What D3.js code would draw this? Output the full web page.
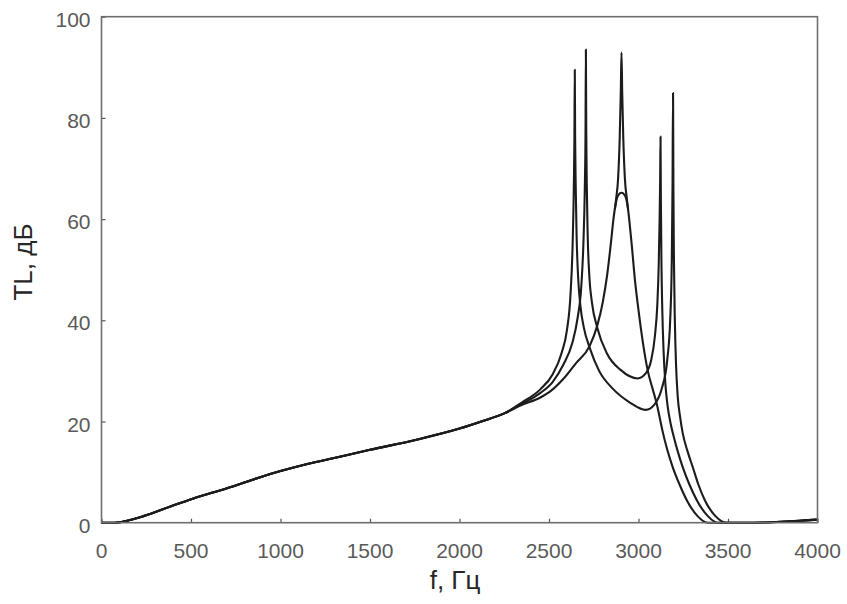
<!DOCTYPE html>
<html>
<head>
<meta charset="utf-8">
<script src="https://cdn.jsdelivr.net/npm/d3@7"></script>
<style>
  body { margin: 0; background: #fff; }
  .tick-label { font-family: "Liberation Sans", Arial, sans-serif; font-size: 21px; fill: #5a5a5a; }
  .axis-title { font-family: "Liberation Sans", Arial, sans-serif; font-size: 26px; fill: #262626; }
</style>
</head>
<body>
<div id="chart"></div>
<script>
// low-frequency part, all curves lie on top of each other here
const baseCurve = [
  [0, 0], [75, 0], [143, 0.4], [235, 1.3], [385, 3.2], [514, 4.8], [701, 6.8],
  [887, 9.0], [1000, 10.2], [1150, 11.6], [1300, 12.8], [1500, 14.4], [1760, 16.4],
  [2000, 18.6], [2130, 20.1], [2250, 21.6]
]

// tail above ~3450 Hz, also shared
const tailCurve = [[3600, 0], [3700, 0.05], [3800, 0.2], [3900, 0.4], [4000, 0.6]]

// two resonators, 2644 / 3193 Hz
const curveA = [
  [2350, 23.8], [2450, 26.3], [2520, 29.3], [2570, 33.5], [2600, 38], [2620, 45],
  [2632, 55], [2639, 67], [2642, 76], [2644, 89.5], [2646, 76], [2649, 67],
  [2654, 57], [2662, 49], [2675, 43], [2695, 38.5], [2728, 34.5], [2780, 30],
  [2856, 26.5], [2950, 23.8], [3040, 22.3], [3090, 23.4], [3130, 26.5], [3160, 32],
  [3177, 40], [3186, 52], [3190, 66], [3193, 84.9], [3195, 66], [3198, 52],
  [3203, 40], [3210, 31], [3219, 25], [3232, 21], [3247, 17.7], [3275, 14],
  [3303, 11], [3335, 7.5], [3370, 4.5], [3430, 1.3], [3492, 0]
]

// two resonators, 2706 / 3123 Hz
const curveB = [
  [2350, 23.5], [2450, 25.6], [2520, 27.8], [2580, 31.2], [2630, 35.5], [2660, 40.5],
  [2680, 46.5], [2692, 55], [2700, 66], [2704, 77], [2706, 93.5], [2708, 78],
  [2711, 67], [2716, 57], [2725, 49], [2740, 43.5], [2770, 38.5], [2823, 33.5],
  [2900, 30.2], [2996, 28.5], [3040, 29.5], [3070, 32], [3092, 37], [3105, 43],
  [3113, 51], [3118, 60], [3121, 68], [3123, 76.3], [3125, 64], [3128, 52],
  [3133, 42], [3140, 34], [3150, 27.5], [3163, 23], [3180, 19.5], [3197, 17],
  [3220, 14], [3247, 11], [3285, 7.5], [3325, 4.5], [3390, 1.2], [3442, 0]
]

// single resonator, 2905 Hz
const curveC = [
  [2350, 23.3], [2449, 24.7], [2505, 25.9], [2577, 28.3], [2650, 31.5], [2728, 35],
  [2770, 39], [2800, 43.5], [2825, 49], [2845, 55], [2860, 60], [2875, 64],
  [2886, 68], [2895, 76], [2901, 85], [2905, 92.9], [2909, 85], [2915, 76],
  [2924, 68], [2935, 64], [2948, 60], [2962, 55], [2980, 48], [3000, 42],
  [3025, 35.5], [3052, 30], [3080, 26.3], [3102, 23.5], [3120, 20.5], [3135, 18],
  [3160, 14.5], [3191, 11], [3230, 7.5], [3269, 4.5], [3330, 1.3], [3386, 0]
]

// damped version of the same resonator: only differs near the top
const curveCDamped = [
  [2868, 62], [2880, 64.2], [2893, 65], [2905, 65.2], [2917, 65], [2930, 64.2], [2942, 62]
]

const xTicks = [0, 500, 1000, 1500, 2000, 2500, 3000, 3500, 4000]
const yTicks = [0, 20, 40, 60, 80, 100]

;(function () {
  const width = 847, height = 604
  const left = 101.5, right = 817.5, top = 16.7, bottom = 522.7

  const svg = d3.select("#chart")
    .append("svg")
    .attr("width", width)
    .attr("height", height)

  const x = d3.scaleLinear().domain([0, 4000]).range([left, right])
  const y = d3.scaleLinear().domain([0, 100]).range([bottom, top])

  // ticks point inward, like matlab
  const xAxis = d3.axisBottom(x).tickValues(xTicks).tickSize(-4).tickFormat("")
  const yAxis = d3.axisLeft(y).tickValues(yTicks).tickSize(-4).tickFormat("")

  svg.append("g")
    .attr("transform", "translate(0," + bottom + ")")
    .call(xAxis)
    .call(g => g.select(".domain").remove())
    .selectAll("line").attr("stroke", "#555").attr("stroke-width", 1.2)

  svg.append("g")
    .attr("transform", "translate(" + left + ",0)")
    .call(yAxis)
    .call(g => g.select(".domain").remove())
    .selectAll("line").attr("stroke", "#555").attr("stroke-width", 1.2)

  // tick labels
  svg.selectAll(".xlab")
    .data(xTicks)
    .enter()
    .append("text")
    .attr("class", "tick-label")
    .attr("x", d => x(d))
    .attr("y", bottom + 35)
    .attr("text-anchor", "middle")
    .text(d => d)

  svg.selectAll(".ylab")
    .data(yTicks)
    .enter()
    .append("text")
    .attr("class", "tick-label")
    .attr("x", left - 11)
    .attr("y", d => y(d) + 10)
    .attr("text-anchor", "end")
    .text(d => d)

  svg.append("text")
    .attr("class", "axis-title")
    .attr("x", 455)
    .attr("y", 589)
    .attr("text-anchor", "middle")
    .text("f, Гц")

  svg.append("text")
    .attr("class", "axis-title")
    .attr("transform", "translate(32,262) rotate(-90)")
    .attr("text-anchor", "middle")
    .text("TL, дБ")

  const line = d3.line()
    .x(d => x(d[0]))
    .y(d => y(d[1]))
    .curve(d3.curveMonotoneX)

  const series = [
    baseCurve.concat(curveC, tailCurve),
    baseCurve.concat(curveB, tailCurve),
    baseCurve.concat(curveA, tailCurve),
    curveCDamped
  ]

  svg.selectAll(".curve")
    .data(series)
    .enter()
    .append("path")
    .attr("class", "curve")
    .attr("d", line)
    .attr("fill", "none")
    .attr("stroke", "#1c1c1c")
    .attr("stroke-width", 2.1)
    .attr("stroke-linejoin", "round")

  // box around the plot
  svg.append("rect")
    .attr("x", left)
    .attr("y", top)
    .attr("width", right - left)
    .attr("height", bottom - top)
    .attr("fill", "none")
    .attr("stroke", "#6e6e6e")
    .attr("stroke-width", 1.6)
})()
</script>
</body>
</html>
